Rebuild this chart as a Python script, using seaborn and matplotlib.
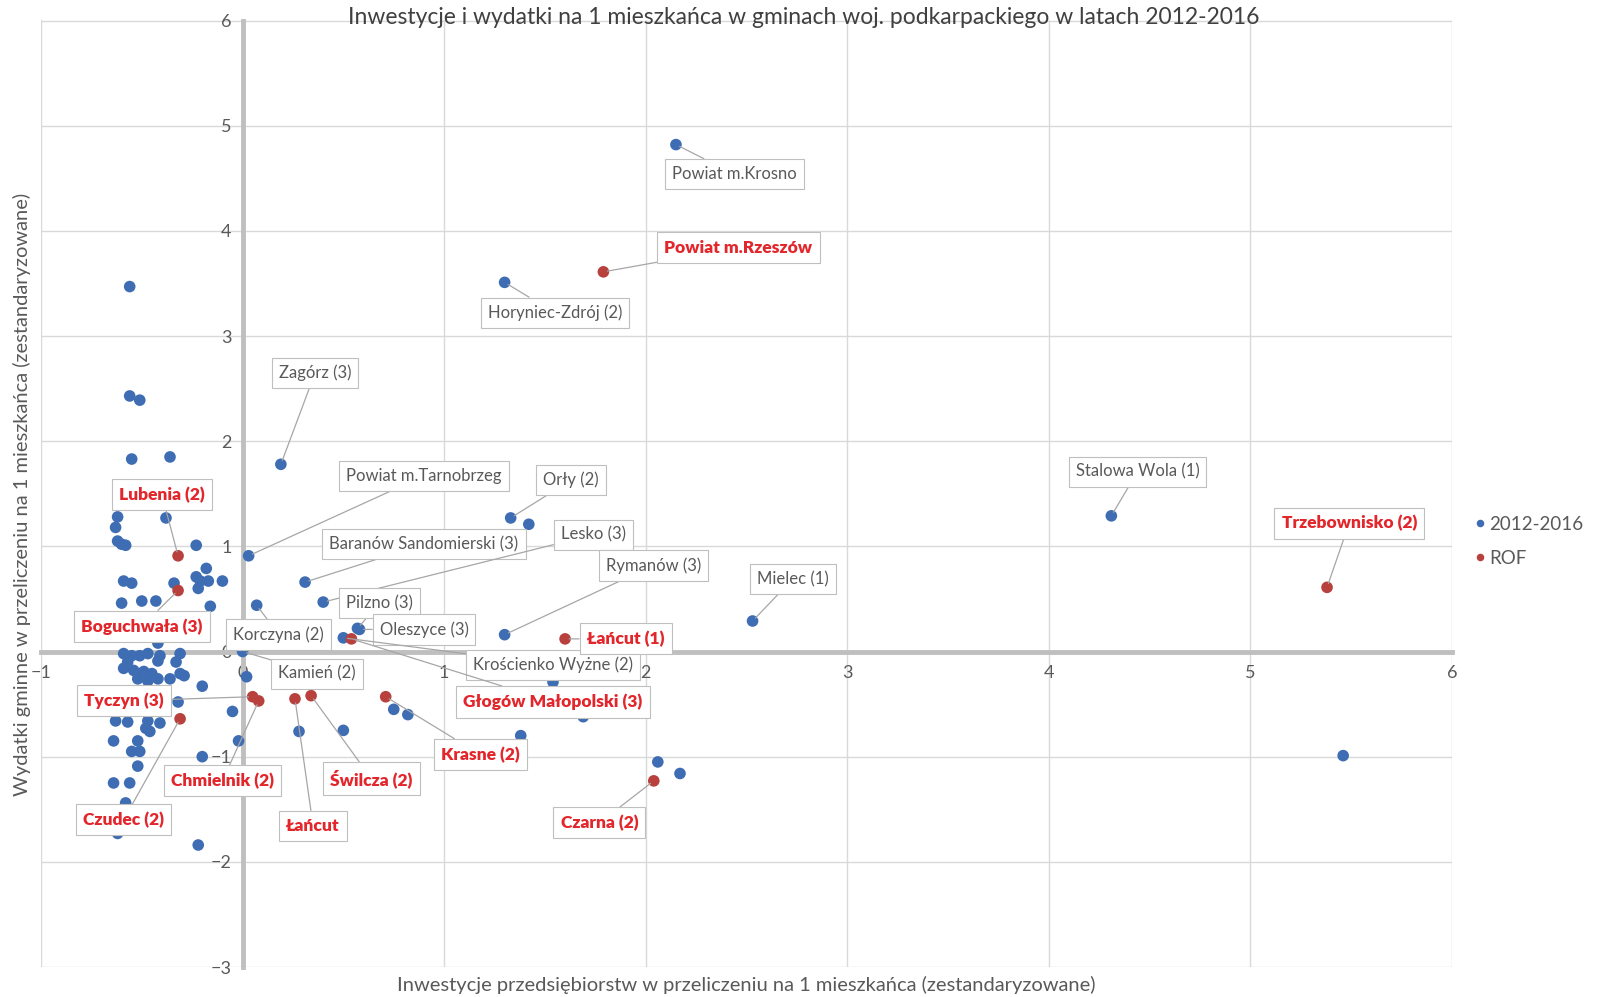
import matplotlib
matplotlib.use("Agg")
import matplotlib.pyplot as plt
import numpy as np
import pandas as pd
import seaborn as sns

# unlabelled municipalities (2012-2016)
other_x = [-0.56, -0.56, -0.51, -0.55, -0.36, -0.62, -0.63, -0.62, -0.60, -0.58,
           -0.38, -0.23, -0.18, -0.23, -0.21, -0.17, -0.10, -0.22, -0.34, -0.59,
           -0.55, -0.60, -0.50, -0.43, -0.16, -0.62, -0.42, -0.59, -0.55, -0.51,
           -0.47, -0.41, -0.31, -0.57, -0.42, -0.33, -0.59, -0.54, -0.49, -0.45,
           -0.31, -0.52, -0.47, -0.42, -0.36, -0.29, -0.20, -0.32, -0.63, -0.57,
           -0.47, -0.41, -0.48, -0.46, -0.64, -0.52, -0.55, -0.51, -0.52, -0.64,
           -0.56, -0.58, -0.62, -0.22, -0.20, -0.05, -0.02, 0.02, 1.42, 5.46,
           2.06, 2.17, 1.38, 1.69, 1.54, 0.75, 0.82, 0.50, 0.28]
other_y = [3.47, 2.43, 2.39, 1.83, 1.85, 1.28, 1.18, 1.05, 1.02, 1.01,
           1.27, 1.01, 0.79, 0.71, 0.67, 0.67, 0.67, 0.60, 0.65, 0.67,
           0.65, 0.46, 0.48, 0.48, 0.43, 0.19, 0.08, -0.02, -0.04, -0.04,
           -0.02, -0.04, -0.02, -0.10, -0.09, -0.10, -0.16, -0.18, -0.19, -0.21,
           -0.21, -0.26, -0.28, -0.26, -0.26, -0.23, -0.33, -0.48, -0.66, -0.67,
           -0.66, -0.68, -0.73, -0.76, -0.85, -0.85, -0.95, -0.95, -1.09, -1.25,
           -1.25, -1.44, -1.73, -1.84, -1.00, -0.57, -0.85, -0.24, 1.21, -0.99,
           -1.05, -1.16, -0.80, -0.62, -0.29, -0.55, -0.60, -0.75, -0.76]

# labelled municipalities
named = ["Powiat m.Krosno", "Horyniec-Zdrój (2)", "Zagórz (3)", "Powiat m.Tarnobrzeg",
         "Baranów Sandomierski (3)", "Lesko (3)", "Pilzno (3)", "Oleszyce (3)",
         "Orły (2)", "Rymanów (3)", "Mielec (1)", "Stalowa Wola (1)", "Korczyna (2)",
         "Kamień (2)", "Krościenko Wyżne (2)",
         "Powiat m.Rzeszów", "Lubenia (2)", "Boguchwała (3)", "Tyczyn (3)",
         "Chmielnik (2)", "Łańcut", "Świlcza (2)", "Czudec (2)", "Krasne (2)",
         "Głogów Małopolski (3)", "Łańcut (1)", "Czarna (2)", "Trzebownisko (2)"]
named_x = [2.15, 1.30, 0.19, 0.03, 0.31, 0.40, 0.57, 0.58, 1.33, 1.30, 2.53, 4.31, 0.07,
           0.00, 0.50,
           1.79, -0.32, -0.32, 0.05, 0.08, 0.26, 0.34, -0.31, 0.71, 0.54, 1.60, 2.04, 5.38]
named_y = [4.82, 3.51, 1.78, 0.91, 0.66, 0.47, 0.22, 0.21, 1.27, 0.16, 0.29, 1.29, 0.44,
           0.00, 0.13,
           3.61, 0.91, 0.58, -0.43, -0.47, -0.45, -0.42, -0.64, -0.43, 0.12, 0.12, -1.23, 0.61]
named_group = ["2012-2016"] * 15 + ["ROF"] * 13

# label box positions (layout)
label_pos = [(2.44, 4.54), (1.55, 3.22), (0.36, 2.65), (0.90, 1.67),
             (0.90, 1.02), (1.74, 1.11), (0.68, 0.46), (0.90, 0.21),
             (1.63, 1.63), (2.04, 0.82), (2.73, 0.69), (4.44, 1.71), (0.18, 0.16),
             (0.37, -0.21), (1.54, -0.13),
             (2.46, 3.84), (-0.40, 1.49), (-0.50, 0.24), (-0.59, -0.47),
             (-0.10, -1.23), (0.35, -1.66), (0.64, -1.21), (-0.59, -1.60), (1.18, -0.98),
             (1.54, -0.48), (1.90, 0.12), (1.77, -1.63), (5.49, 1.22)]

x_ticks = [-1, 0, 1, 2, 3, 4, 5, 6]
y_ticks = [-3, -2, -1, 0, 1, 2, 3, 4, 5, 6]

palette = {"2012-2016": "#3E6DB3", "ROF": "#B8413E"}
grey_text = "#595959"


def main() -> None:
    sns.set_style("white")
    plt.rcParams['font.family'] = ['Lato', 'DejaVu Sans']

    df = pd.DataFrame({
        "x": other_x + named_x,
        "y": other_y + named_y,
        "grupa": ["2012-2016"] * len(other_x) + named_group,
    })
    df = pd.concat([df[df.grupa == "2012-2016"], df[df.grupa == "ROF"]])

    fig = plt.figure(figsize=(16.08, 9.97), dpi=100)
    ax = fig.add_axes([41 / 1608, 1 - 967 / 997, (1452 - 41) / 1608, (967 - 20.5) / 997])

    sns.scatterplot(data=df, x="x", y="y", hue="grupa", palette=palette,
                    s=70, edgecolor="none", ax=ax, zorder=3)

    ax.set_xlim(-1, 6)
    ax.set_ylim(-3, 6)
    ax.set_xticks(x_ticks)
    ax.set_yticks(y_ticks)
    ax.grid(True, color="#D9D9D9", linewidth=1)
    ax.set_axisbelow(True)

    for side in ["top", "right"]:
        ax.spines[side].set_visible(False)
    ax.spines["left"].set_position(("data", 0))
    ax.spines["bottom"].set_position(("data", 0))
    for side in ["left", "bottom"]:
        ax.spines[side].set_color("#BFBFBF")
        ax.spines[side].set_linewidth(3.5)
        ax.spines[side].set_zorder(1)
    ax.tick_params(length=0, labelsize=13, labelcolor=grey_text)
    ax.tick_params(axis="x", pad=10)
    ax.tick_params(axis="y", pad=8)
    ax.set_xlabel("")
    ax.set_ylabel("")

    for name, px, py, grp, (tx, ty) in zip(named, named_x, named_y, named_group, label_pos):
        red = grp == "ROF"
        ax.annotate(
            name, xy=(px, py), xytext=(tx, ty),
            ha="center", va="center", fontsize=12.5 if red else 12,
            color="#E3262B" if red else grey_text,
            fontweight="heavy" if red else "normal",
            bbox=dict(boxstyle="square,pad=0.42", fc="white", ec="#BFBFBF", lw=0.8),
            arrowprops=dict(arrowstyle="-", color="#A6A6A6", lw=0.9,
                            shrinkA=0, shrinkB=3),
            zorder=5,
        )

    handles, labels = ax.get_legend_handles_labels()
    ax.legend(handles, labels, loc="center left", bbox_to_anchor=(0.904, 0.457),
              bbox_transform=fig.transFigure, frameon=False, fontsize=13.5,
              labelcolor=grey_text, handletextpad=0.0, labelspacing=0.9,
              markerscale=0.65, handlelength=1.0)

    fig.text(0.5, 1 - 17 / 997,
             "Inwestycje i wydatki na 1 mieszkańca w gminach woj. podkarpackiego w latach 2012-2016",
             ha="center", va="center", fontsize=16.5, color="#404040")
    fig.text(746 / 1608, 1 - 985 / 997,
             "Inwestycje przedsiębiorstw w przeliczeniu na 1 mieszkańca (zestandaryzowane)",
             ha="center", va="center", fontsize=14.5, color=grey_text)
    fig.text(22 / 1608, 1 - 494 / 997,
             "Wydatki gminne w przeliczeniu na 1 mieszkańca (zestandaryzowane)",
             ha="center", va="center", rotation=90, fontsize=14.5, color=grey_text)

    fig.savefig("out.png", dpi=100)


if __name__ == "__main__":
    main()
